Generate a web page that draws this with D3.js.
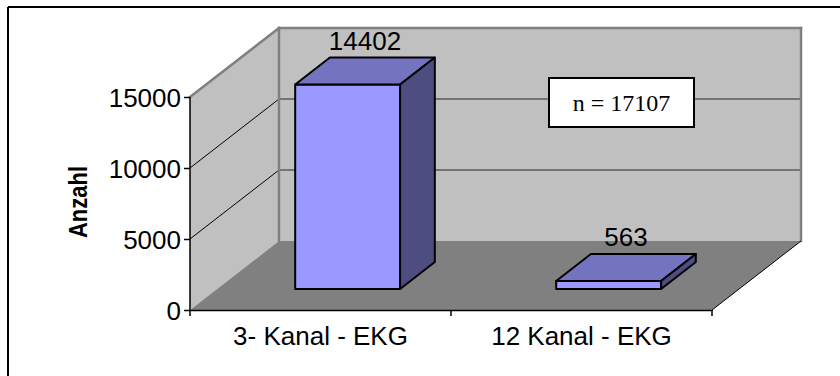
<!DOCTYPE html>
<html>
<head>
<meta charset="utf-8">
<script src="https://cdn.jsdelivr.net/npm/d3@7"></script>
<style>
  html, body { margin: 0; padding: 0; background: #fff; }
  svg { display: block; }
  text { font-family: "Liberation Sans", Arial, sans-serif; fill: #000; }
  text.serif { font-family: "Liberation Serif", "Times New Roman", serif; }
</style>
</head>
<body>
<svg id="chart" width="840" height="376"></svg>
<script>
// Chart data
const categories = ["3- Kanal - EKG", "12 Kanal - EKG"];
const counts = [14402, 563];
const yTicks = [0, 5000, 10000, 15000];
const yMax = 15000;
const totalLabel = "n = 17107";
const yTitle = "Anzahl";

const svg = d3.select("#chart");

// 3D frame: front plane plus a depth offset towards the upper right
const front = { left: 190, right: 712, bottom: 310, top: 97 };
const depth = { dx: 89, dy: -69 };
const barDepth = [0.305, 0.695];   // bars sit in the middle of the floor depth

const x = d3.scaleBand().domain(categories)
  .range([front.left, front.right])
  .paddingInner(0.598).paddingOuter(0.299);
const xCat = d3.scaleBand().domain(categories).range([front.left, front.right]);
const y = d3.scaleLinear().domain([0, yMax]).range([front.bottom, front.top]);

// project (front x, value, depth fraction) to screen
const P = (px, v, t) => [px + t * depth.dx, y(v) + t * depth.dy];
const poly = pts => "M" + pts.map(p => p.join(",")).join("L") + "Z";

// outer frame (top and left edges)
svg.append("line").attr("x1", 8).attr("x2", 840).attr("y1", 7).attr("y2", 7)
  .attr("stroke", "#000").attr("stroke-width", 2);
svg.append("line").attr("x1", 8).attr("x2", 8).attr("y1", 7).attr("y2", 376)
  .attr("stroke", "#000").attr("stroke-width", 2);

const wallFill = "#C0C0C0", floorFill = "#808080", edge = "#808080";

// back wall
svg.append("path")
  .attr("d", poly([P(front.left, 0, 1), P(front.right, 0, 1), P(front.right, yMax, 1), P(front.left, yMax, 1)]))
  .attr("fill", wallFill);
// side wall
svg.append("path")
  .attr("d", poly([P(front.left, 0, 0), P(front.left, 0, 1), P(front.left, yMax, 1), P(front.left, yMax, 0)]))
  .attr("fill", wallFill);
// floor
svg.append("path")
  .attr("d", poly([P(front.left, 0, 0), P(front.right, 0, 0), P(front.right, 0, 1), P(front.left, 0, 1)]))
  .attr("fill", floorFill);

// gridlines on back wall and side wall
const grid = yTicks.filter(v => v > 0 && v < yMax);
grid.forEach(v => {
  const a = P(front.left, v, 1), b = P(front.right, v, 1), c = P(front.left, v, 0);
  svg.append("line").attr("x1", a[0]).attr("y1", a[1]).attr("x2", b[0]).attr("y2", b[1])
    .attr("stroke", "#5a5a5a").attr("stroke-width", 1.5);
  svg.append("line").attr("x1", c[0]).attr("y1", c[1]).attr("x2", a[0]).attr("y2", a[1])
    .attr("stroke", "#000").attr("stroke-width", 1);
});

// wall edges
const edgeLine = (p, q) => svg.append("line")
  .attr("x1", p[0]).attr("y1", p[1]).attr("x2", q[0]).attr("y2", q[1])
  .attr("stroke", edge).attr("stroke-width", 2.5).attr("stroke-linecap", "square");
edgeLine(P(front.left, yMax, 0), P(front.left, yMax, 1));
edgeLine(P(front.left, yMax, 1), P(front.right, yMax, 1));
edgeLine(P(front.right, yMax, 1), P(front.right, 0, 1));
edgeLine(P(front.left, yMax, 1), P(front.left, 0, 1));

// floor right edge
{
  const p = P(front.right, 0, 0), q = P(front.right, 0, 1);
  svg.append("line").attr("x1", p[0]).attr("y1", p[1]).attr("x2", q[0]).attr("y2", q[1])
    .attr("stroke", "#000").attr("stroke-width", 1);
}

// bars (drawn as boxes: front, top, right side)
const bars = svg.append("g");
categories.forEach((cat, i) => {
  const v = counts[i];
  const x0 = x(cat), x1 = x(cat) + x.bandwidth();
  const [t0, t1] = barDepth;
  const g = bars.append("g").attr("stroke", "#000").attr("stroke-width", 2).attr("stroke-linejoin", "round");
  g.append("path").attr("fill", "#9999FF")
    .attr("d", poly([P(x0, 0, t0), P(x1, 0, t0), P(x1, v, t0), P(x0, v, t0)]));
  g.append("path").attr("fill", "#7373C0")
    .attr("d", poly([P(x0, v, t0), P(x1, v, t0), P(x1, v, t1), P(x0, v, t1)]));
  g.append("path").attr("fill", "#4D4D80")
    .attr("d", poly([P(x1, 0, t0), P(x1, 0, t1), P(x1, v, t1), P(x1, v, t0)]));
  // value label centred over the top face, just behind its back edge
  const cx = P((x0 + x1) / 2, v, (t0 + t1) / 2)[0];
  const cy = P(x0, v, t1)[1];
  svg.append("text").attr("x", cx).attr("y", cy - 8)
    .attr("text-anchor", "middle").attr("font-size", 26).text(d3.format("d")(v));
});

// value axis (front left edge)
const axisY = svg.append("g").attr("transform", `translate(${front.left},0)`)
  .call(d3.axisLeft(y).tickValues(yTicks).tickSize(6).tickPadding(3).tickFormat(d3.format("d")));
axisY.select(".domain").attr("stroke", "#000").attr("stroke-width", 1.5)
  .attr("d", `M0,${front.top}V${front.bottom}`);
axisY.selectAll(".tick line").attr("stroke", "#000").attr("stroke-width", 1.5);
axisY.selectAll(".tick text").attr("font-size", 26).attr("fill", "#000").attr("dy", "0.36em");

// category axis (front floor edge)
const axisX = svg.append("g").attr("transform", `translate(0,${front.bottom})`)
  .call(d3.axisBottom(xCat).tickSize(0).tickPadding(17));
axisX.select(".domain").attr("stroke", "#000").attr("stroke-width", 1.5);
axisX.selectAll(".tick text").attr("font-size", 26).attr("fill", "#000");
// category separator ticks
const sep = [front.left, ...categories.slice(1).map(c => xCat(c)), front.right];
svg.append("g").selectAll("line").data(sep).join("line")
  .attr("x1", d => d).attr("x2", d => d)
  .attr("y1", front.bottom).attr("y2", front.bottom + 6)
  .attr("stroke", "#000").attr("stroke-width", 1.5);

// y axis title
svg.append("text")
  .attr("transform", "translate(87,202) rotate(-90) scale(1,1.2)")
  .attr("text-anchor", "middle").attr("font-size", 22).attr("font-weight", "bold")
  .text(yTitle);

// total annotation box
const box = svg.append("g").attr("transform", "translate(549,78)");
box.append("rect").attr("width", 145).attr("height", 49)
  .attr("fill", "#fff").attr("stroke", "#000").attr("stroke-width", 2);
box.append("text").attr("class", "serif").attr("x", 72.5).attr("y", 33).attr("text-anchor", "middle")
  .attr("font-size", 24).text(totalLabel);
</script>
</body>
</html>
